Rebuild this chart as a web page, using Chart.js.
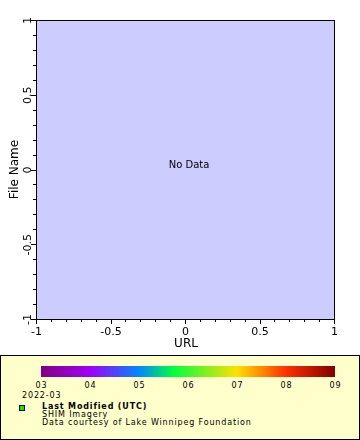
<!DOCTYPE html>
<html><head><meta charset="utf-8">
<script src="https://cdn.jsdelivr.net/npm/chart.js@4"></script>
<style>
html,body{margin:0;padding:0;background:#fff;width:360px;height:440px;overflow:hidden;font-family:"DejaVu Sans",sans-serif;}
#wrap{position:absolute;left:0;top:0;width:360px;height:352px;}
#legend{position:absolute;left:0;top:355px;width:360px;height:85px;box-sizing:border-box;border:1px solid #000;background:#ffffcc;color:#000;}
#cbar{position:absolute;left:40px;top:10px;width:294px;height:11px;}
.t{position:absolute;font-size:8px;line-height:8px;letter-spacing:0.85px;white-space:nowrap;}
.cl{top:26px;transform:translateX(-50%);}
#date{left:21px;top:36px;}
#sq{position:absolute;left:18px;top:49px;width:4px;height:4px;border:1px solid #000;background:#00ee00;}
#l0{left:41px;top:47px;font-weight:bold;}
#l1{left:41px;top:55px;}
#l2{left:41px;top:63px;}
</style>
</head><body>
<div id="wrap"><canvas id="c" width="360" height="352"></canvas></div>
<div id="legend">
  <div id="cbar"></div>
  <div id="cl"></div>
  <div id="date" class="t"></div>
  <div id="sq"></div>
  <div id="l0" class="t"></div>
  <div id="l1" class="t"></div>
  <div id="l2" class="t"></div>
</div>
<script>
// ---- data ----
const xTickValues = [-1, -0.5, 0, 0.5, 1];
const xTickLabels = ['-1', '-0.5', '0', '0.5', '1'];
const yTickValues = [-1, -0.5, 0, 0.5, 1];
const yTickLabels = ['-1', '-0.5', '0', '0.5', '1'];
const minorTickValues = [-1, -0.9, -0.8, -0.7, -0.6, -0.5, -0.4, -0.3, -0.2, -0.1, 0,
                         0.1, 0.2, 0.3, 0.4, 0.5, 0.6, 0.7, 0.8, 0.9, 1];
const seriesX = [];
const seriesY = [];
const xTitle = 'URL';
const yTitle = 'File Name';
const noDataText = 'No Data';
const colorbarLabels = ['03', '04', '05', '06', '07', '08', '09'];
const colorbarColors = ['#800080', '#a000f8', '#0088ff', '#00ff40', '#ffe000', '#ff3000', '#800000'];
const colorbarStops = [0, 1, 2, 2.7, 4, 5, 6];
const dateLabel = '2022-03';
const legendTitle = 'Last Modified (UTC)';
const legendLines = ['SHIM Imagery', 'Data courtesy of Lake Winnipeg Foundation'];

// ---- legend (HTML) ----
const n = colorbarLabels.length - 1;
document.getElementById('cbar').style.background =
  'linear-gradient(to right,' + colorbarColors.map((c, i) => c + ' ' + (colorbarStops[i] / n * 100) + '%').join(',') + ')';
const clWrap = document.getElementById('cl');
colorbarLabels.forEach((t, i) => {
  const d = document.createElement('div');
  d.className = 't cl'; d.textContent = t;
  d.style.left = (40.5 + 294 * i / n) + 'px';
  clWrap.appendChild(d);
});
document.getElementById('date').textContent = dateLabel;
document.getElementById('l0').textContent = legendTitle;
document.getElementById('l1').textContent = legendLines[0];
document.getElementById('l2').textContent = legendLines[1];

// ---- chart ----
const framePlugin = {
  id: 'frame',
  beforeDraw(chart) {
    const {ctx, chartArea: a} = chart;
    ctx.save();
    ctx.fillStyle = '#ccccff';
    ctx.fillRect(a.left, a.top, a.right - a.left, a.bottom - a.top);
    ctx.restore();
  },
  afterDraw(chart) {
    const {ctx, chartArea: a} = chart;
    const xs = chart.scales.x, ys = chart.scales.y;
    ctx.save();
    ctx.strokeStyle = '#000'; ctx.lineWidth = 1;
    ctx.beginPath();
    minorTickValues.forEach(v => {
      const major = xTickValues.some(m => Math.abs(m - v) < 1e-9);
      const len = major ? 5 : 3;
      const px = Math.round(xs.getPixelForValue(v)) + 0.5;
      ctx.moveTo(px, a.bottom); ctx.lineTo(px, a.bottom + len);
      const py = Math.round(ys.getPixelForValue(v)) + 0.5;
      ctx.moveTo(a.left, py); ctx.lineTo(a.left - len, py);
    });
    ctx.stroke();
    ctx.strokeRect(a.left + 0.5, a.top + 0.5, a.right - a.left, a.bottom - a.top);
    ctx.fillStyle = '#000';
    ctx.font = '11px "DejaVu Sans"';
    ctx.textAlign = 'center'; ctx.textBaseline = 'alphabetic';
    xTickValues.forEach((v, i) => {
      ctx.fillText(xTickLabels[i], xs.getPixelForValue(v) + 0.5, a.bottom + 16);
    });
    yTickValues.forEach((v, i) => {
      const py = ys.getPixelForValue(v) + 0.5;
      ctx.save(); ctx.translate(a.left - 5, py); ctx.rotate(-Math.PI / 2);
      ctx.fillText(yTickLabels[i], 0, 0); ctx.restore();
    });
    ctx.font = '12px "DejaVu Sans"';
    ctx.fillText(xTitle, (a.left + a.right) / 2 + 1, a.bottom + 28);
    ctx.save(); ctx.translate(18, (a.top + a.bottom) / 2); ctx.rotate(-Math.PI / 2);
    ctx.fillText(yTitle, 0, 0); ctx.restore();
    ctx.font = '10px "DejaVu Sans"';
    ctx.textBaseline = 'middle';
    ctx.fillText(noDataText, (a.left + a.right) / 2 + 4, (a.top + a.bottom) / 2 - 4);
    ctx.restore();
  }
};

new Chart(document.getElementById('c'), {
  type: 'scatter',
  data: { datasets: [{ data: seriesX.map((x, i) => ({x, y: seriesY[i]})) }] },
  options: {
    responsive: false, animation: false, devicePixelRatio: 1,
    layout: { padding: { left: 0, top: 20, right: 26, bottom: 0 } },
    plugins: { legend: { display: false }, tooltip: { enabled: false } },
    scales: {
      x: {
        type: 'linear', min: -1, max: 1,
        afterBuildTicks: s => { s.ticks = xTickValues.map(v => ({value: v})); },
        afterFit: s => { s.height = 33; },
        grid: { display: false }, border: { display: false },
        ticks: { display: false }
      },
      y: {
        type: 'linear', min: -1, max: 1,
        afterBuildTicks: s => { s.ticks = yTickValues.map(v => ({value: v})); },
        afterFit: s => { s.width = 36; },
        grid: { display: false }, border: { display: false },
        ticks: { display: false }
      }
    }
  },
  plugins: [framePlugin]
});
</script>
</body></html>
